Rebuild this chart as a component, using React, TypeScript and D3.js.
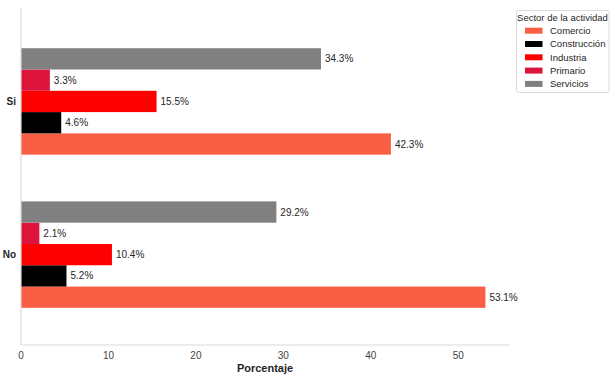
import React from "react";
import * as d3 from "d3";

const categories = ["Si", "No"];
const sectors = ["Comercio", "Construcción", "Industria", "Primario", "Servicios"];
const colors = ["#FA5F45", "#000000", "#FF0000", "#DC143C", "#808080"];
const siValues = [42.3, 4.6, 15.5, 3.3, 34.3];
const noValues = [53.1, 5.2, 10.4, 2.1, 29.2];
const xTicks = [0, 10, 20, 30, 40, 50];
const values = [siValues, noValues];

const W = 615;
const H = 383;
const left = 21;
const right = 509;
const top = 8;
const bottom = 345;

export default function App() {
  const x = d3.scaleLinear().domain([0, 55.8]).range([left, right]);
  const y = d3.scaleLinear().domain([-0.61, 1.59]).range([top, bottom]);
  const barH = y(0.139) - y(0);
  const font = "Liberation Sans, Arial, sans-serif";
  // order within group from top: Servicios, Primario, Industria, Construcción, Comercio
  const slot = (si: number) => 4 - si; // index from top
  return (
    <svg width={W} height={H} style={{ position: "absolute", left: 0, top: 0, background: "#fff" }} fontFamily={font}>
      {categories.map((c, ci) =>
        sectors.map((s, si) => {
          const v = values[ci][si];
          const yc = y(ci) + (slot(si) - 2) * barH;
          return (
            <g key={c + s}>
              <rect x={x(0)} y={yc - barH / 2} width={x(v) - x(0)} height={barH} fill={colors[si]} />
              <text x={x(v) + 4} y={yc} dy="0.35em" fontSize={10} fill="#262626">
                {v.toFixed(1)}%
              </text>
            </g>
          );
        })
      )}
      <line x1={left} x2={left} y1={top} y2={bottom} stroke="#d9d9d9" strokeWidth={1.2} />
      <line x1={left} x2={right} y1={bottom} y2={bottom} stroke="#d9d9d9" strokeWidth={1.2} />
      {xTicks.map((t) => (
        <text key={t} x={x(t)} y={355} dy="0.35em" textAnchor="middle" fontSize={10} fill="#444">
          {t}
        </text>
      ))}
      {categories.map((c, ci) => (
        <text key={c} x={16} y={y(ci)} dy="0.35em" textAnchor="end" fontSize={10} fontWeight="bold" fill="#262626">
          {c}
        </text>
      ))}
      <text x={(left + right) / 2} y={368} dy="0.35em" textAnchor="middle" fontSize={11} fontWeight="bold" fill="#262626">
        Porcentaje
      </text>
      <g>
        <rect x={516.5} y={10.5} width={92.5} height={82} fill="#fff" stroke="#dcdcdc" rx={2} />
        <text x={562.5} y={17.5} dy="0.35em" textAnchor="middle" fontSize={9.5} fill="#262626">
          Sector de la actividad
        </text>
        {sectors.map((s, si) => (
          <g key={s}>
            <rect x={525} y={30.7 + si * 13.3 - 3} width={17.5} height={6} fill={colors[si]} />
            <text x={550} y={30.7 + si * 13.3} dy="0.35em" fontSize={9.5} fill="#262626">
              {s}
            </text>
          </g>
        ))}
      </g>
    </svg>
  );
}
